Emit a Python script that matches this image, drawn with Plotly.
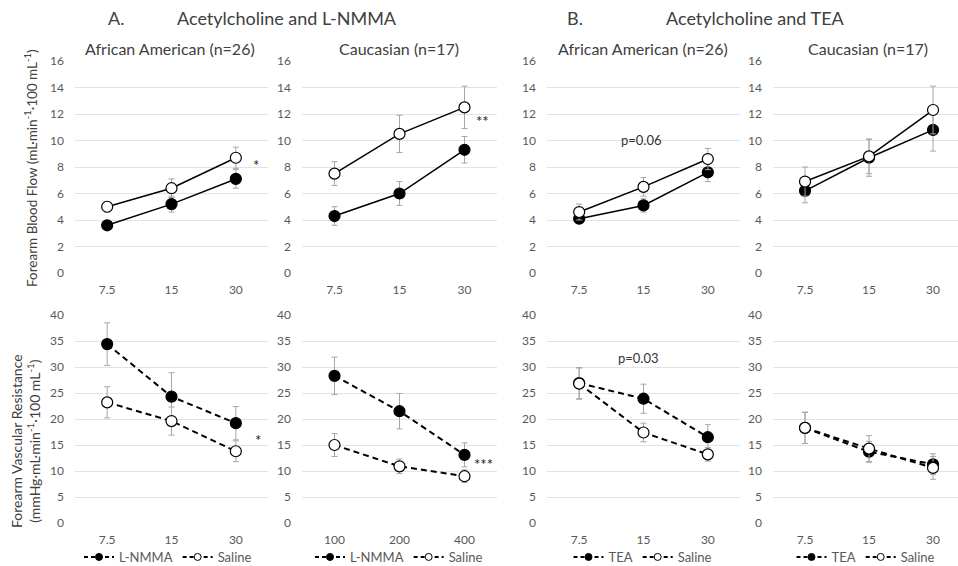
import plotly.graph_objects as go

W, H = 958, 566

doses = ["7.5", "15", "30"]
doses_fvr_ca_lnmma = ["100", "200", "400"]

# Forearm blood flow (top row)
fbf_aa_lnmma = [3.6, 5.2, 7.1]
fbf_aa_lnmma_err = [0.3, 0.6, 0.7]
fbf_aa_lnmma_saline = [5.0, 6.4, 8.7]
fbf_aa_lnmma_saline_err = [0.4, 0.7, 0.8]

fbf_ca_lnmma = [4.3, 6.0, 9.3]
fbf_ca_lnmma_err = [0.7, 0.9, 1.0]
fbf_ca_lnmma_saline = [7.5, 10.5, 12.5]
fbf_ca_lnmma_saline_err = [0.9, 1.4, 1.6]

fbf_aa_tea = [4.1, 5.1, 7.6]
fbf_aa_tea_err = [0.3, 0.5, 0.7]
fbf_aa_tea_saline = [4.6, 6.5, 8.6]
fbf_aa_tea_saline_err = [0.6, 0.7, 0.8]

fbf_ca_tea = [6.2, 8.7, 10.8]
fbf_ca_tea_err = [0.9, 1.4, 1.6]
fbf_ca_tea_saline = [6.9, 8.8, 12.3]
fbf_ca_tea_saline_err = [1.1, 1.3, 1.8]

# Forearm vascular resistance (bottom row)
fvr_aa_lnmma = [34.4, 24.3, 19.2]
fvr_aa_lnmma_err = [4.1, 4.6, 3.2]
fvr_aa_lnmma_saline = [23.2, 19.6, 13.8]
fvr_aa_lnmma_saline_err = [3.0, 2.7, 2.0]

fvr_ca_lnmma = [28.3, 21.5, 13.1]
fvr_ca_lnmma_err = [3.6, 3.4, 2.3]
fvr_ca_lnmma_saline = [15.0, 10.9, 9.0]
fvr_ca_lnmma_saline_err = [2.2, 1.4, 1.2]

fvr_aa_tea = [26.9, 23.9, 16.5]
fvr_aa_tea_err = [3.0, 2.8, 2.4]
fvr_aa_tea_saline = [26.8, 17.4, 13.2]
fvr_aa_tea_saline_err = [3.0, 1.8, 1.3]

fvr_ca_tea = [18.3, 13.7, 11.3]
fvr_ca_tea_err = [3.0, 2.0, 2.0]
fvr_ca_tea_saline = [18.3, 14.3, 10.6]
fvr_ca_tea_saline_err = [3.0, 2.5, 2.2]

FONT = "Lato, 'Open Sans', sans-serif"
TXT = "#404040"
TICK = "#595959"
GRID = "#e3e3e3"
ERR = "#a6a6a6"
DASH = "6px,4px"


def px_x(p):
    return p / W


def px_y(p):
    return 1 - p / H


# panel x extents in pixels
xdom = [(75, 268), (302, 497), (547, 740), (773, 958)]
xrng = [[-0.5, 2.5], [-0.5, 2.5], [-0.5, 2.5], [-0.5, 2.39]]
top_ydom = (273, 61)
bot_ydom = (523, 315)

fig = go.Figure()

panels_top = [
    (fbf_aa_lnmma, fbf_aa_lnmma_err, fbf_aa_lnmma_saline, fbf_aa_lnmma_saline_err, "L-NMMA", doses),
    (fbf_ca_lnmma, fbf_ca_lnmma_err, fbf_ca_lnmma_saline, fbf_ca_lnmma_saline_err, "L-NMMA", doses),
    (fbf_aa_tea, fbf_aa_tea_err, fbf_aa_tea_saline, fbf_aa_tea_saline_err, "TEA", doses),
    (fbf_ca_tea, fbf_ca_tea_err, fbf_ca_tea_saline, fbf_ca_tea_saline_err, "TEA", doses),
]
panels_bot = [
    (fvr_aa_lnmma, fvr_aa_lnmma_err, fvr_aa_lnmma_saline, fvr_aa_lnmma_saline_err, "L-NMMA", doses),
    (fvr_ca_lnmma, fvr_ca_lnmma_err, fvr_ca_lnmma_saline, fvr_ca_lnmma_saline_err, "L-NMMA", doses_fvr_ca_lnmma),
    (fvr_aa_tea, fvr_aa_tea_err, fvr_aa_tea_saline, fvr_aa_tea_saline_err, "TEA", doses),
    (fvr_ca_tea, fvr_ca_tea_err, fvr_ca_tea_saline, fvr_ca_tea_saline_err, "TEA", doses),
]


def add_pair(idx, data, dash, legend_name):
    drug, drug_err, sal, sal_err, drug_name, cats = data
    ax = "" if idx == 1 else str(idx)
    line = dict(color="black", width=1.5 if dash == "solid" else 2, dash=dash)
    for vals, errs, fill, name in [
        (drug, drug_err, "black", drug_name),
        (sal, sal_err, "white", "Saline"),
    ]:
        fig.add_trace(go.Scatter(
            x=cats, y=vals,
            mode="lines+markers",
            name=name,
            line=line,
            marker=dict(size=11, color=fill, line=dict(color="black", width=1.2)),
            error_y=dict(type="data", array=errs, visible=True, color=ERR, thickness=1, width=3),
            xaxis="x" + ax, yaxis="y" + ax,
            showlegend=False,
        ))
        if legend_name is not None:
            # legend-only entry with a small marker, as in the reference legend
            fig.add_trace(go.Scatter(
                x=[None], y=[None],
                mode="lines+markers",
                name=name,
                line=dict(color="black", width=2, dash="4px,3px"),
                marker=dict(size=7, color=fill, line=dict(color="black", width=1)),
                xaxis="x" + ax, yaxis="y" + ax,
                showlegend=True,
                legend=legend_name,
                hoverinfo="skip",
            ))


for i, d in enumerate(panels_top):
    add_pair(i + 1, d, "solid", None)
for i, d in enumerate(panels_bot):
    lg = "legend" if i == 0 else "legend%d" % (i + 1)
    add_pair(i + 5, d, DASH, lg)

layout = dict(
    width=W, height=H,
    margin=dict(l=0, r=0, t=0, b=0, autoexpand=False),
    paper_bgcolor="white", plot_bgcolor="white",
    font=dict(family=FONT, color=TXT, size=12),
)

for k in range(8):
    col = k % 4
    top = k < 4
    n = k + 1
    key = "" if n == 1 else str(n)
    x0, x1 = xdom[col]
    yd = top_ydom if top else bot_ydom
    layout["xaxis" + key] = dict(
        domain=[px_x(x0), px_x(x1)],
        anchor="y" + key,
        type="category",
        range=xrng[col],
        showgrid=False, zeroline=False, showline=False,
        ticks="", tickfont=dict(size=12, color=TICK, family=FONT),
        ticklabelstandoff=8,
        fixedrange=True,
    )
    layout["yaxis" + key] = dict(
        domain=[px_y(yd[0]), px_y(yd[1])],
        anchor="x" + key,
        range=[0, 16] if top else [0, 40],
        dtick=2 if top else 5,
        showgrid=True, gridcolor=GRID, gridwidth=1,
        zeroline=False, showline=False, ticks="",
        tickfont=dict(size=12, color=TICK, family=FONT),
        ticklabelstandoff=10,
        fixedrange=True,
    )

# legends below bottom panels
centers = [168, 399, 643, 866]
for i in range(4):
    key = "legend" if i == 0 else "legend%d" % (i + 1)
    layout[key] = dict(
        orientation="h",
        x=px_x(centers[i]), xanchor="center",
        y=px_y(557), yanchor="middle",
        font=dict(size=13, color=TICK, family=FONT),
        bgcolor="rgba(0,0,0,0)",
        itemwidth=30,
        tracegroupgap=0,
    )

fig.update_layout(**layout)

ann = []


def add_text(x, y, text, size=12, color=TXT, angle=0, xanchor="center"):
    ann.append(dict(
        x=px_x(x), y=px_y(y), xref="paper", yref="paper",
        text=text, showarrow=False, textangle=angle,
        font=dict(size=size, color=color, family=FONT),
        xanchor=xanchor, yanchor="middle",
    ))


add_text(116, 18, "A.", size=18)
add_text(287, 18, "Acetylcholine and L-NMMA", size=18)
add_text(575, 18, "B.", size=18)
add_text(755, 18, "Acetylcholine and TEA", size=18)
add_text(170, 48, "African American (n=26)", size=16)
add_text(399, 48, "Caucasian (n=17)", size=16)
add_text(643, 48, "African American (n=26)", size=16)
add_text(868, 48, "Caucasian (n=17)", size=16)

add_text(31, 168, "Forearm Blood Flow (mL·min<sup>-1</sup>·100 mL<sup>-1</sup>)", size=13.5, angle=-90)
add_text(25, 441, "Forearm Vascular Resistance<br>(mmHg·mL·min<sup>-1</sup>·100 mL<sup>-1</sup>)", size=14, angle=-90)

add_text(256, 165, "*", size=15, color="#222222")
add_text(483, 121, "**", size=15, color="#222222")
add_text(641, 140, "p=0.06", size=13, color="#333333")
add_text(258, 440, "*", size=15, color="#222222")
add_text(484, 464, "***", size=15, color="#222222")
add_text(638, 358, "p=0.03", size=13, color="#333333")

fig.update_layout(annotations=ann)

fig.write_html("out.html")
